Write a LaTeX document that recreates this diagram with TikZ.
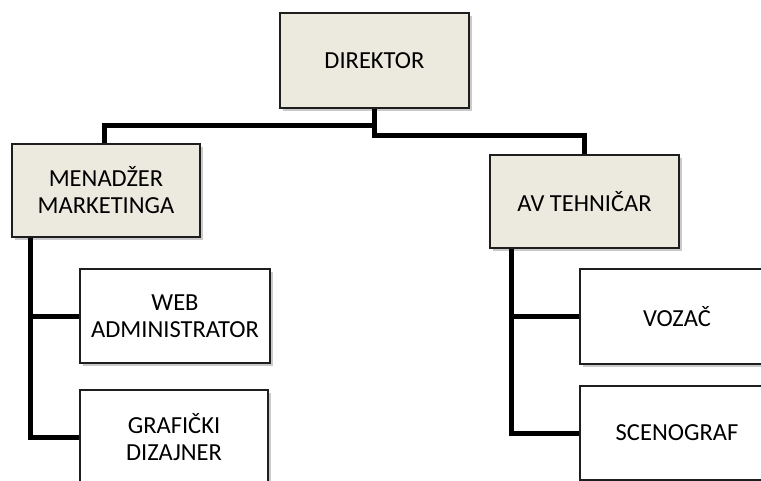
\documentclass[tikz,border=0pt]{standalone}
\usepackage{fontspec}
\setmainfont{Carlito}
\usetikzlibrary{shadows}
\definecolor{beige}{HTML}{ECEADF}
\definecolor{edge}{HTML}{1E1E1E}
\begin{document}
\begin{tikzpicture}[x=1pt,y=1pt,
  box/.style={draw=edge, line width=1.6pt, rectangle, align=center,
    font=\fontsize{24.5}{27}\selectfont, text=black,
    drop shadow={shadow xshift=2.5pt, shadow yshift=-2.5pt, opacity=0.35, fill=black!60}},
  boss/.style={box, fill=beige},
  staff/.style={box, fill=white},
  link/.style={draw=black, line width=5pt, line join=miter}]
\useasboundingbox (0,0) rectangle (761,-480);
\clip (0,0) rectangle (761,-480);
\node[boss, minimum width=189pt, minimum height=95pt] (dir) at (374.5,-60.5) {DIREKTOR};
\node[boss, minimum width=188pt, minimum height=93pt] (men) at (106,-190.5) {MENADŽER\\MARKETINGA};
\node[boss, minimum width=189pt, minimum height=93pt] (av) at (584.5,-201.5) {AV TEHNIČAR};
\node[staff, minimum width=190pt, minimum height=94pt] (web) at (175,-316) {WEB\\ADMINISTRATOR};
\node[staff, minimum width=188pt, minimum height=94pt] (graf) at (174,-437) {GRAFIČKI\\DIZAJNER};
\node[staff, minimum width=194pt, minimum height=95pt] (voz) at (677,-316.5) {VOZAČ};
\node[staff, minimum width=194pt, minimum height=94pt] (scen) at (677,-433) {SCENOGRAF};
\coordinate (mj) at ([xshift=-76pt]men.south);
\coordinate (aj) at ([xshift=-73.5pt]av.south);
\draw[link] (dir.south) -- ++(0,-17) -| ([xshift=-2pt]men.north);
\draw[link] (dir.south) -- ++(0,-27) -| (av.north);
\draw[link] (mj) |- (web.west);
\draw[link] (mj) |- (graf.west);
\draw[link] (aj) |- (voz.west);
\draw[link] (aj) |- (scen.west);
\end{tikzpicture}
\end{document}
